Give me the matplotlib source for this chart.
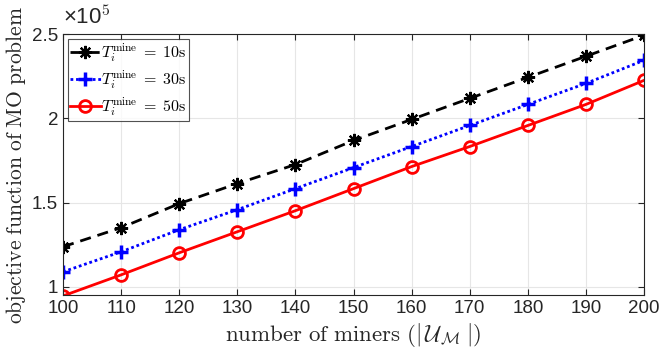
import matplotlib
matplotlib.use("Agg")
import matplotlib.pyplot as plt
from matplotlib.ticker import FuncFormatter

miners = [100, 110, 120, 130, 140, 150, 160, 170, 180, 190, 200]
t10 = [1.238, 1.351, 1.494, 1.613, 1.726, 1.869, 1.994, 2.119, 2.244, 2.369, 2.494]
t30 = [1.089, 1.208, 1.339, 1.458, 1.583, 1.708, 1.833, 1.958, 2.083, 2.208, 2.345]
t50 = [0.946, 1.071, 1.202, 1.327, 1.452, 1.583, 1.714, 1.833, 1.958, 2.083, 2.226]
scale = 1e5

plt.rcParams['mathtext.fontset'] = 'cm'
plt.rcParams['font.family'] = ['Liberation Sans', 'DejaVu Sans']

fig, ax = plt.subplots(figsize=(6.64, 3.6), dpi=100)
fig.subplots_adjust(left=0.095, right=0.97, top=0.905, bottom=0.18)

ax.plot(miners, [v * scale for v in t10], color='black', linestyle=(0, (4, 2.5)), lw=2,
        marker=(8, 2, 0), markersize=9.5, markeredgewidth=1.6,
        label=r'$T_i^{\mathrm{mine}}\;=\;10\mathrm{s}$')
ax.plot(miners, [v * scale for v in t30], color='blue', linestyle=(0, (1, 1)), lw=2,
        marker='+', markersize=10, markeredgewidth=2.5,
        label=r'$T_i^{\mathrm{mine}}\;=\;30\mathrm{s}$')
ax.plot(miners, [v * scale for v in t50], color='red', linestyle='-', lw=2,
        marker='o', markersize=8.5, markerfacecolor='none', markeredgewidth=2,
        label=r'$T_i^{\mathrm{mine}}\;=\;50\mathrm{s}$')

ax.set_xlim(100, 200)
ax.set_ylim(0.95e5, 2.5e5)
ax.set_xticks(miners)
ax.set_yticks([1e5, 1.5e5, 2e5, 2.5e5])
ax.yaxis.set_major_formatter(FuncFormatter(lambda v, p: '%g' % (v / scale)))
ax.text(0.0, 1.02, '×10$^{\\mathsf{5}}$', transform=ax.transAxes, fontsize=16,
        color='#262626', ha='left', va='bottom')

ax.tick_params(direction='in', labelsize=13.5, top=True, right=True, colors='#262626', length=4)
ax.grid(True, color='#e6e6e6', lw=0.8)
for s in ax.spines.values():
    s.set_color('#262626')
    s.set_linewidth(0.8)

ax.set_xlabel(r'$\mathrm{number\ of\ miners\ }(|\,\mathcal{U}_{\mathcal{M}}\;|)$', fontsize=16.5,
              color='#262626', labelpad=3)
ax.set_ylabel(r'$\mathrm{objective\ function\ of\ MO\ problem}$', fontsize=15.5,
              color='#262626', labelpad=3)

leg = ax.legend(loc='upper left', fontsize=11.5, frameon=True, fancybox=False,
                borderpad=0.15, labelspacing=0.3, handlelength=1.9, handletextpad=0.05,
                borderaxespad=0.3)
leg.get_frame().set_edgecolor('#262626')
leg.get_frame().set_linewidth(0.8)

fig.savefig('out.png', dpi=100)
